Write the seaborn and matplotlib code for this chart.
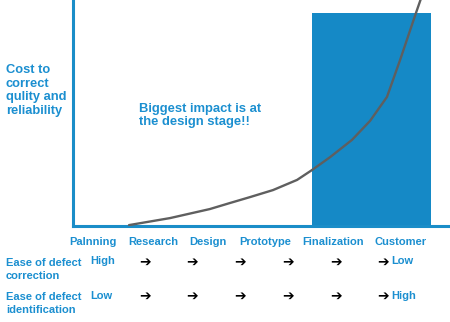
import matplotlib
matplotlib.use("Agg")
import matplotlib.pyplot as plt
import seaborn as sns
import pandas as pd

# ---- data ----
curve_x = [14.9, 25.8, 36.4, 41.8, 47.1, 53.2, 59.6, 63.6, 68.4, 74.2, 79.0, 83.5, 87.0, 91.2, 92.6]
curve_y = [0.4, 3.5, 7.5, 10.2, 12.8, 15.9, 20.4, 24.8, 30.5, 38.1, 46.5, 57.1, 73.5, 94.2, 100.9]
zone_start, zone_end, zone_top = 63.6, 95.2, 94.2
stages = ["Palnning", "Research", "Design", "Prototype", "Finalization", "Customer"]
stage_px = [93, 153, 208, 265, 333, 401]
arrow_px = [145, 192, 240, 288, 336, 383]
y_label = "Cost to\ncorrect\nqulity and\nreliability"
note = "Biggest impact is at\nthe design stage!!"
row_labels = ["Ease of defect\ncorrection", "Ease of defect\nidentification"]
row_start = ["High", "Low"]
row_end = ["Low", "High"]

BLUE = "#1a8dc8"
TXT = "#1b8fd0"

sns.set_style("white")
plt.rcParams["font.family"] = ["Liberation Sans", "DejaVu Sans"]

W, H = 450, 322
fig = plt.figure(figsize=(W / 100, H / 100), dpi=100)
ax = fig.add_axes([73 / W, 1 - 226 / H, 376 / W, 226 / H])

ax.fill_between([zone_start, zone_end], [zone_top, zone_top], 0, color="#1589c6", linewidth=0, zorder=1)
df = pd.DataFrame({"x": curve_x, "y": curve_y})
sns.lineplot(data=df, x="x", y="y", ax=ax, color="#5f5f5f", linewidth=1.7, zorder=3, sort=False)

ax.set_xlim(0, 100)
ax.set_ylim(0, 100)
ax.set_xticks([])
ax.set_yticks([])
ax.set_xlabel("")
ax.set_ylabel("")
for s in ["top", "right"]:
    ax.spines[s].set_visible(False)
for s in ["left", "bottom"]:
    ax.spines[s].set_color(BLUE)
    ax.spines[s].set_linewidth(2.2)


def ft(px, py, s, **kw):
    fig.text(px / W, 1 - py / H, s, **kw)


ft(6, 90.5, y_label, color=TXT, fontsize=9.3, fontweight="bold", va="center", ha="left", linespacing=1.2)
ft(139, 115.5, note, color=TXT, fontsize=9.4, fontweight="bold", va="center", ha="left", linespacing=1.2)

for p, s in zip(stage_px, stages):
    ft(p, 242, s, color=TXT, fontsize=8, fontweight="bold", va="center", ha="center")

rows_y = [(269.5, 261.5), (303.5, 296)]
for (ly, ay), lab, a, b in zip(rows_y, row_labels, row_start, row_end):
    ft(6, ly, lab, color=TXT, fontsize=8, fontweight="bold", va="center", ha="left", linespacing=1.45)
    ft(90, ay, a, color=TXT, fontsize=8, fontweight="bold", va="center", ha="left")
    for p in arrow_px:
        ft(p, ay, "➔", color="black", fontsize=10, fontweight="bold", va="center", ha="center", family=["DejaVu Sans"])
    ft(391, ay, b, color=TXT, fontsize=8, fontweight="bold", va="center", ha="left")

fig.savefig("out.png", dpi=100)
